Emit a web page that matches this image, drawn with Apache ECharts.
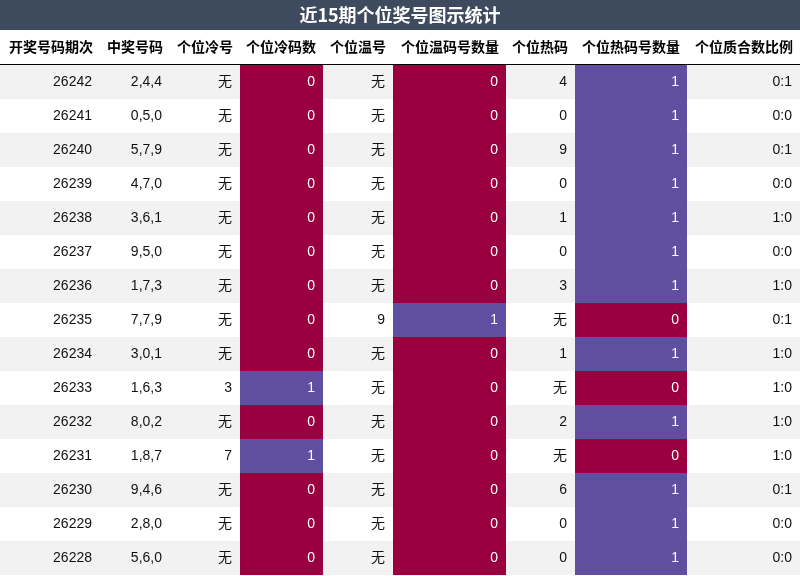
<!DOCTYPE html>
<html><head><meta charset="utf-8">
<script src="https://cdn.jsdelivr.net/npm/echarts@6/dist/echarts.min.js"></script>
<style>html,body{margin:0;padding:0;background:#fff}#c{width:800px;height:576px}</style>
</head><body><div id="c"></div>
<script>
const titleText = "近15期个位奖号图示统计";
const headers = ["开奖号码期次","中奖号码","个位冷号","个位冷码数","个位温号","个位温码号数量","个位热码","个位热码号数量","个位质合数比例"];
const periods = ["26242","26241","26240","26239","26238","26237","26236","26235","26234","26233","26232","26231","26230","26229","26228"];
const numbers = ["2,4,4","0,5,0","5,7,9","4,7,0","3,6,1","9,5,0","1,7,3","7,7,9","3,0,1","1,6,3","8,0,2","1,8,7","9,4,6","2,8,0","5,6,0"];
const coldNums = ["无","无","无","无","无","无","无","无","无","3","无","7","无","无","无"];
const coldCounts = [0,0,0,0,0,0,0,0,0,1,0,1,0,0,0];
const warmNums = ["无","无","无","无","无","无","无","9","无","无","无","无","无","无","无"];
const warmCounts = [0,0,0,0,0,0,0,1,0,0,0,0,0,0,0];
const hotNums = ["4","0","9","0","1","0","3","无","1","无","2","无","6","0","0"];
const hotCounts = [1,1,1,1,1,1,1,0,1,0,1,0,1,1,1];
const ratios = ["0:1","0:0","0:1","0:0","1:0","0:0","1:0","0:1","1:0","1:0","1:0","1:0","0:1","0:0","0:0"];

const columns = [periods,numbers,coldNums,coldCounts,warmNums,warmCounts,hotNums,hotCounts,ratios];
const countCols = [3,5,7];
const colEdges = [0,100,170,240,323,393,506,575,687,800];
const C0 = "#9a0040", C1 = "#604ea0";

const data = [];
for (let r=0;r<periods.length;r++) for (let c=0;c<columns.length;c++) data.push([c,r]);

const chart = echarts.init(document.getElementById('c'));
chart.setOption({
  animation:false,
  grid:{left:0,right:0,top:65,bottom:1},
  xAxis:{type:'value',min:0,max:800,show:false},
  yAxis:{type:'category',data:periods,inverse:true,show:false},
  graphic:[
    {type:'rect',shape:{x:0,y:0,width:800,height:30},style:{fill:'#3e4b5f'}},
    {type:'text',x:400,y:15,style:{text:titleText,fill:'#fff',font:'bold 18px "Noto Sans CJK SC", sans-serif',align:'center',verticalAlign:'middle'}},
    ...headers.map((h,i)=>({type:'text',x:colEdges[i+1]-7,y:47,style:{text:h,fill:'#000',font:'bold 14px "Noto Sans CJK SC", sans-serif',align:'right',verticalAlign:'middle'}})),
    {type:'line',shape:{x1:0,y1:64.5,x2:800,y2:64.5},style:{stroke:'#000',lineWidth:1}}
  ],
  series:[{
    type:'custom',
    data:data,
    renderItem:function(params,api){
      const c=api.value(0), r=api.value(1);
      const p=api.coord([0,r]); const h=api.size([0,1])[1];
      const y0=p[1]-h/2;
      const x0=api.coord([colEdges[c],0])[0], x1=api.coord([colEdges[c+1],0])[0];
      const v=columns[c][r];
      let fill = r%2===0?'#f2f2f2':'#ffffff', tc='#111';
      if (countCols.includes(c)) { fill = v===1?C1:C0; tc='#fff'; }
      return {type:'group',children:[
        {type:'rect',shape:{x:x0,y:y0,width:x1-x0,height:h},style:{fill:fill}},
        {type:'text',x:x1-8,y:p[1],style:{text:String(v),fill:tc,font:'14px "Liberation Sans","Noto Sans CJK SC",sans-serif',align:'right',verticalAlign:'middle'}}
      ]};
    }
  }]
});
</script></body></html>
